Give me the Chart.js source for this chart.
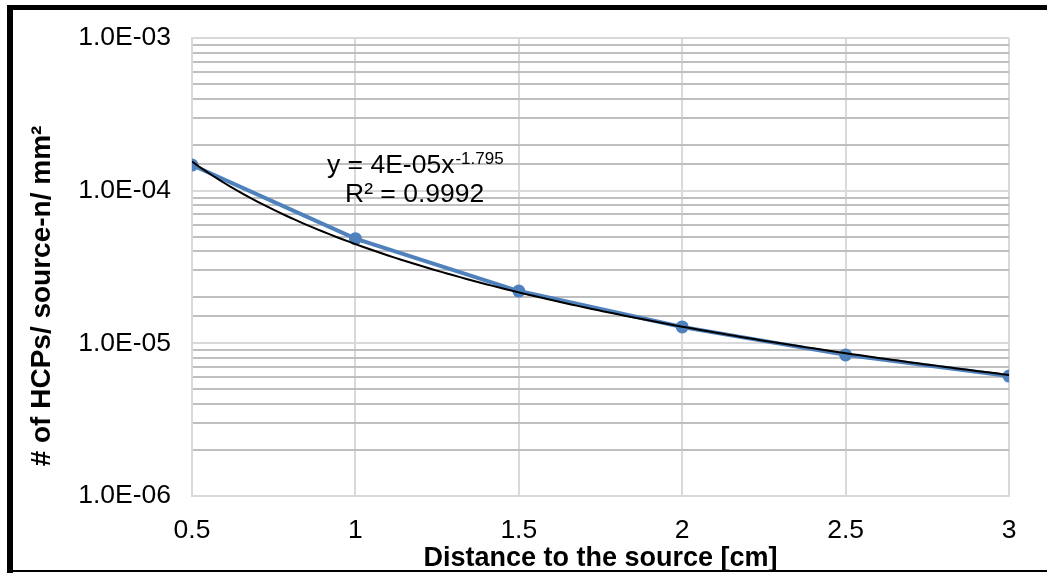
<!DOCTYPE html>
<html>
<head>
<meta charset="utf-8">
<script src="https://cdn.jsdelivr.net/npm/chart.js@4.4.1/dist/chart.umd.min.js"></script>
<style>
  html, body { margin: 0; padding: 0; background: #ffffff; }
  canvas { display: block; }
</style>
</head>
<body>
<canvas id="chart" width="1047" height="573"></canvas>
<script>
// Measured HCP rate versus distance to the neutron source
const distances = [0.5, 1, 1.5, 2, 2.5, 3];
const hcpRates = [1.47e-4, 4.85e-5, 2.20e-5, 1.28e-5, 8.4e-6, 6.1e-6];

const xTickLabels = ['0.5', '1', '1.5', '2', '2.5', '3'];
const yTickLabels = ['1.0E-06', '1.0E-05', '1.0E-04', '1.0E-03'];

const xTitle = 'Distance to the source [cm]';
const yTitle = '# of HCPs/ source-n/ mm²';
const fitEquation = 'y = 4E-05x';
const fitExponentText = '-1.795';
const fitR2Text = 'R² = 0.9992';

const FONT = "'Liberation Sans', Arial, sans-serif";
const SERIES_BLUE = '#4f81bd';

// Least-squares power-law fit (straight line in log-log space)
function powerFit(xs, ys) {
  const lx = xs.map(Math.log), ly = ys.map(Math.log);
  const n = xs.length;
  const mx = lx.reduce((a, b) => a + b, 0) / n;
  const my = ly.reduce((a, b) => a + b, 0) / n;
  let sxy = 0, sxx = 0;
  for (let i = 0; i < n; i++) {
    sxy += (lx[i] - mx) * (ly[i] - my);
    sxx += (lx[i] - mx) * (lx[i] - mx);
  }
  const b = sxy / sxx;
  const a = Math.exp(my - b * mx);
  return { a, b };
}

const fit = powerFit(distances, hcpRates);
const trendPoints = [];
for (let i = 0; i <= 125; i++) {
  const x = distances[0] + (distances[distances.length - 1] - distances[0]) * i / 125;
  trendPoints.push({ x, y: fit.a * Math.pow(x, fit.b) });
}

function isDecade(v) {
  const e = Math.log10(v);
  return Math.abs(e - Math.round(e)) < 1e-9;
}

// Frame, axis titles and fit label
const annotations = {
  id: 'annotations',
  afterDraw(chart) {
    const ctx = chart.ctx;
    ctx.save();
    // outer frame
    ctx.fillStyle = '#000000';
    ctx.fillRect(7, 5, 1040, 5);
    ctx.fillRect(7, 5, 6, 568);
    ctx.fillRect(7, 570, 1040, 2);

    // axis titles
    ctx.fillStyle = '#000000';
    ctx.textAlign = 'center';
    ctx.textBaseline = 'alphabetic';
    const area = chart.chartArea;
    ctx.font = `bold 27px ${FONT}`;
    ctx.fillText(xTitle, (area.left + area.right) / 2, 566);

    ctx.save();
    ctx.translate(50, 296);
    ctx.rotate(-Math.PI / 2);
    ctx.font = `bold 28px ${FONT}`;
    ctx.fillText(yTitle, 0, 0);
    ctx.restore();

    // fit equation
    ctx.font = `26.5px ${FONT}`;
    ctx.textAlign = 'left';
    ctx.fillText(fitEquation, 327, 173);
    const w = ctx.measureText(fitEquation).width;
    ctx.font = `17px ${FONT}`;
    ctx.fillText(fitExponentText, 327 + w + 1, 164);
    ctx.font = `26.5px ${FONT}`;
    ctx.fillText(fitR2Text, 345, 202);
    ctx.restore();
  }
};

new Chart(document.getElementById('chart'), {
  type: 'scatter',
  data: {
    datasets: [
      {
        label: 'Power fit',
        data: trendPoints,
        showLine: true,
        borderColor: '#000000',
        borderWidth: 2,
        pointRadius: 0,
        pointHoverRadius: 0,
        fill: false,
        order: 0
      },
      {
        label: 'HCPs',
        data: distances.map((x, i) => ({ x, y: hcpRates[i] })),
        showLine: true,
        borderColor: SERIES_BLUE,
        backgroundColor: SERIES_BLUE,
        borderWidth: 4,
        pointRadius: 6.5,
        pointBorderWidth: 0,
        pointBackgroundColor: SERIES_BLUE,
        fill: false,
        order: 1
      }
    ]
  },
  options: {
    responsive: false,
    animation: false,
    events: [],
    layout: { padding: { left: 0, top: 38, right: 38, bottom: 0 } },
    plugins: {
      legend: { display: false },
      tooltip: { enabled: false },
      title: { display: false }
    },
    scales: {
      x: {
        type: 'linear',
        min: 0.5,
        max: 3,
        afterFit(scale) { scale.height = 77; },
        grid: { color: '#d9d9d9', lineWidth: 2, drawTicks: false },
        border: { color: '#d9d9d9', width: 2 },
        ticks: {
          stepSize: 0.5,
          padding: 19,
          color: '#000000',
          font: { family: FONT, size: 26.5 },
          maxRotation: 0,
          autoSkip: false,
          callback(v) {
            const i = Math.round((v - distances[0]) / 0.5);
            return xTickLabels[i] ?? '';
          }
        }
      },
      y: {
        type: 'logarithmic',
        min: 1e-6,
        max: 1e-3,
        afterFit(scale) { scale.width = 192; },
        grid: {
          drawTicks: false,
          lineWidth: 2,
          color(ctx) {
            return ctx.tick && isDecade(ctx.tick.value) ? '#d9d9d9' : '#bfbfbf';
          }
        },
        border: { color: '#d9d9d9', width: 2 },
        ticks: {
          padding: 21,
          color: '#000000',
          font: { family: FONT, size: 26.5 },
          autoSkip: false,
          callback(v) {
            if (!isDecade(v)) return '';
            const i = Math.round(Math.log10(v)) + 6;
            return yTickLabels[i] ?? '';
          }
        }
      }
    }
  },
  plugins: [annotations]
});
</script>
</body>
</html>
